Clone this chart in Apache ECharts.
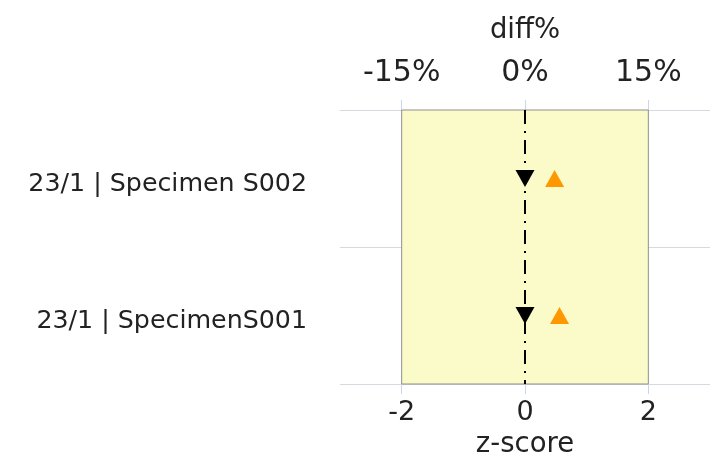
<!DOCTYPE html>
<html>
<head>
<meta charset="utf-8">
<script src="https://cdn.jsdelivr.net/npm/echarts@6/dist/echarts.min.js"></script>
<style>html,body{margin:0;padding:0;background:#fff}#c{width:721px;height:470px}</style>
</head>
<body>
<div id="c"></div>
<script>
// Categories (top to bottom)
var categories = ['23/1 | Specimen S002', '23/1 | SpecimenS001'];
// z-score values (black down-triangles, bottom axis)
var zScores = [0, 0];
// diff% values (orange up-triangles, top axis)
var diffPct = [3.6, 4.2];
// tick labels
var zTicks = [-2, 0, 2];
var diffTicks = [-15, 0, 15];
// acceptable band (z-score)
var bandZ = [-2, 2];

var FONT = 'DejaVu Sans';
var TXT = '#222';
var chart = echarts.init(document.getElementById('c'), null, {renderer: 'canvas'});
chart.setOption({
  animation: false,
  backgroundColor: '#ffffff',
  grid: {left: 340, right: 11, top: 110, bottom: 86, containLabel: false, outerBoundsMode: 'none'},
  xAxis: [
    {
      type: 'value', position: 'bottom', min: -3, max: 3,
      name: 'z-score', nameLocation: 'middle', nameGap: 40,
      nameTextStyle: {fontFamily: FONT, fontSize: 27.5, color: TXT},
      axisLine: {show: false},
      axisTick: {show: true, length: 10, lineStyle: {color: '#ccd6eb'}, customValues: zTicks},
      axisLabel: {fontFamily: FONT, fontSize: 27, color: TXT, margin: 15, customValues: zTicks},
      splitLine: {show: false}
    },
    {
      type: 'value', position: 'top', min: -22.5, max: 22.5,
      name: 'diff%', nameLocation: 'middle', nameGap: 65,
      nameTextStyle: {fontFamily: FONT, fontSize: 27.5, color: TXT},
      axisLine: {show: false},
      axisTick: {show: true, length: 10, lineStyle: {color: '#ccd6eb'}, customValues: diffTicks},
      axisLabel: {fontFamily: FONT, fontSize: 30, color: TXT, margin: 22, customValues: diffTicks,
        formatter: function (v) { return v + '%'; }},
      splitLine: {show: false}
    }
  ],
  yAxis: {
    type: 'category', data: categories, inverse: true,
    axisLine: {show: false}, axisTick: {show: false},
    axisLabel: {fontFamily: FONT, fontSize: 25.3, color: TXT, margin: 33,
      verticalAlign: 'top', lineHeight: 12},
    splitLine: {show: true, lineStyle: {color: '#d5d9e0', width: 1}}
  },
  series: [
    {
      name: 'z-score', type: 'scatter', xAxisIndex: 0,
      data: zScores.map(function (v, i) { return [v, categories[i]]; }),
      symbol: 'triangle', symbolRotate: 180, symbolSize: [19, 17],
      itemStyle: {color: '#000000', opacity: 1}, z: 5,
      markArea: {
        silent: true,
        itemStyle: {color: '#fafbc8', borderColor: '#8f8f8f', borderWidth: 1, opacity: 1},
        data: [[{xAxis: bandZ[0]}, {xAxis: bandZ[1]}]]
      },
      markLine: {
        silent: true, symbol: ['none', 'none'], label: {show: false},
        lineStyle: {color: '#000', width: 2, type: [14, 7, 2, 7], opacity: 1},
        data: [{xAxis: 0}]
      }
    },
    {
      name: 'diff%', type: 'scatter', xAxisIndex: 1,
      data: diffPct.map(function (v, i) { return [v, categories[i]]; }),
      symbol: 'triangle', symbolSize: [19, 17],
      itemStyle: {color: '#ff9800', opacity: 1}, z: 5
    }
  ]
});
</script>
</body>
</html>
